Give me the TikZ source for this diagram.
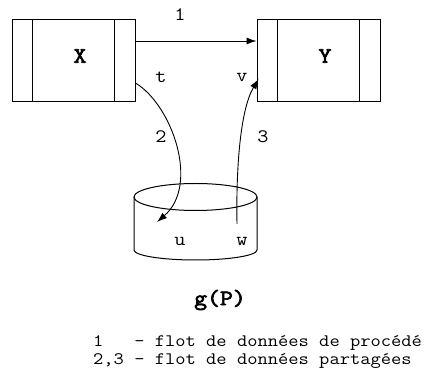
\documentclass[tikz,border=0pt]{standalone}
\usepackage{fontspec}
\newfontfamily\cour{Latin Modern Mono}[FakeStretch=1.14, BoldFont={Latin Modern Mono}, BoldFeatures={FakeBold=3}]
\usetikzlibrary{arrows.meta}
\tikzset{
    store box/.style={draw, line width=1pt, minimum width=123pt, minimum height=82pt, inner sep=0pt},
    flow/.style={line width=0.9pt, -{Latex[length=10pt,width=7pt]}},
    lbl/.style={font=\cour\fontsize{19}{19}\selectfont, inner sep=0pt},
    big lbl/.style={font=\cour\bfseries\fontsize{22}{22}\selectfont, inner sep=0pt},
    legend/.style={font=\cour\fontsize{17.5}{18}\selectfont, inner sep=0pt, anchor=base west}
}
\begin{document}
\begin{tikzpicture}[x=1pt, y=-1pt]
    \useasboundingbox (0,0) rectangle (437,374);
    % process boxes
    \node[store box] (boxX) at (73.5,61) {};
    \node[store box] (boxY) at (318.5,61) {};
    \foreach \b in {boxX,boxY}{
        \draw[line width=1.6pt] ([xshift=21pt]\b.north west) -- ([xshift=21pt]\b.south west);
        \draw[line width=1pt] ([xshift=-21pt]\b.north east) -- ([xshift=-21pt]\b.south east);
    }
    \node[big lbl] (lblX) at (80,56) {X};
    \node[big lbl] (lblY) at (325,56) {Y};
    % shared store
    \draw[line width=1pt] (195.5,197) ellipse (61.5 and 13.5);
    \draw[line width=1pt] (134,197) -- (134,250) arc[start angle=180, end angle=0, x radius=61.5, y radius=10] -- (257,197);
    \coordinate (uIn) at (157,222);
    \coordinate (wOut) at (237,224);
    % flows
    \draw[flow] ([yshift=20pt]boxX.east) -- ([yshift=20pt]boxY.west);
    \draw[flow] ([yshift=-22pt]boxX.east) .. controls (172,105) and (200,185) .. (uIn);
    \draw[flow] (wOut) .. controls (236,170) and (240,110) .. ([xshift=2pt,yshift=-18pt]boxY.west);
    % labels
    \node[lbl] (n1) at (180,15) {1};
    \node[lbl] (n2) at (161,137) {2};
    \node[lbl] (n3) at (263,137) {3};
    \node[lbl] (t) at (161,77) {t};
    \node[lbl] (v) at (242,77) {v};
    \node[lbl] (u) at (180,241) {u};
    \node[lbl] (w) at (242,241) {w};
    \node[big lbl] (gP) at (220,300) {g(P)};
    \node[legend] (leg1) at (93,347) {1\phantom{,3} - flot de données de procédé};
    \node[legend] (leg2) at (93,365) {2,3 - flot de données partagées};
\end{tikzpicture}
\end{document}
